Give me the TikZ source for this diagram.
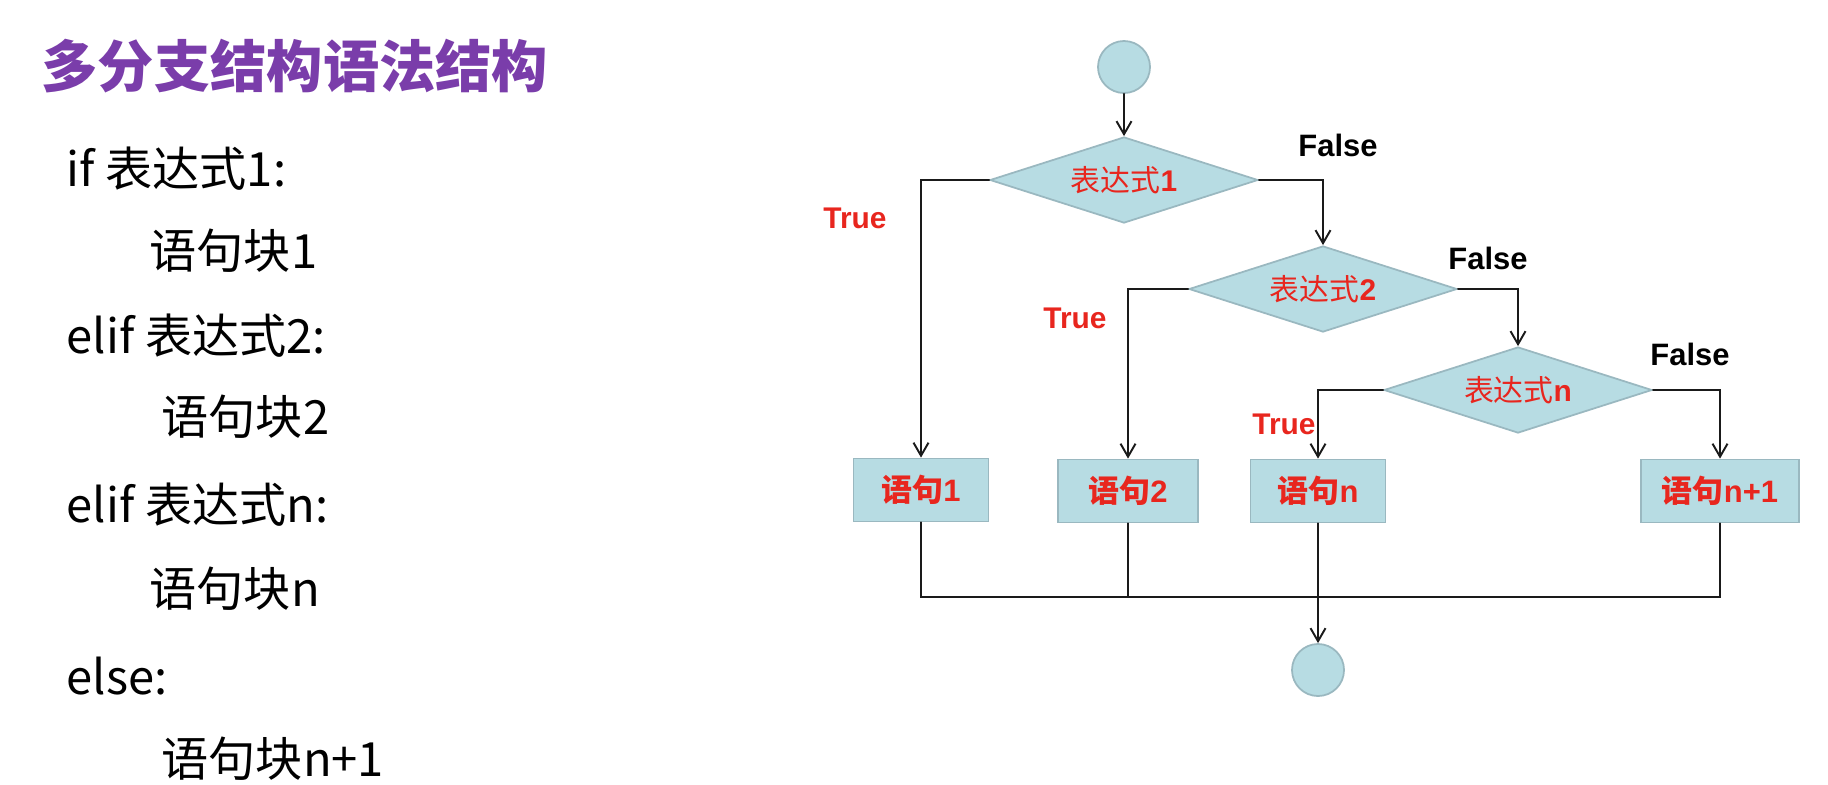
\documentclass[tikz,border=0pt]{standalone}
\usepackage{fontspec}
\usepackage{tikz}
\usetikzlibrary{shapes.geometric,arrows.meta}
\setmainfont{Liberation Sans}
\newfontfamily\cjk{Noto Sans CJK SC}
\definecolor{mbpurple}{HTML}{7A3DAA}
\definecolor{mbred}{HTML}{E8261E}
\definecolor{mbfill}{HTML}{B7DCE3}
\definecolor{mbedge}{HTML}{9AB8C0}
\definecolor{mbink}{HTML}{1A1A1A}

\begin{document}
\begin{tikzpicture}[x=0.01cm, y=-0.01cm, line cap=round,
    flow/.style={mbink, line width=0.55pt},
    arrow/.style={flow, -{Straight Barb[length=1.3mm, width=1.5mm]}},
    term/.style={circle, fill=mbfill, draw=mbedge, line width=0.5pt, minimum size=0.52cm, inner sep=0pt},
    cond/.style={diamond, fill=mbfill, draw=mbedge, line width=0.5pt, aspect=3, minimum width=2.68cm, minimum height=0.86cm, inner sep=0pt, text=mbred, font=\fontsize{8.5pt}{10pt}\selectfont\bfseries},
    stmt/.style={rectangle, fill=mbfill, draw=mbedge, line width=0.5pt, minimum height=0.63cm, inner sep=0pt, text=mbred, font=\fontsize{8.8pt}{10pt}\selectfont\bfseries},
    yes/.style={text=mbred, font=\fontsize{8.5pt}{10pt}\selectfont\bfseries},
    no/.style={text=black, font=\fontsize{8.8pt}{10pt}\selectfont\bfseries},
    code/.style={anchor=west, inner sep=0pt, text=black, font=\cjk\fontsize{13.4pt}{16pt}\selectfont}]
  \useasboundingbox (0,0) rectangle (1828,784);

  % title and syntax
  \node[anchor=west, inner sep=0pt, text=mbpurple, font=\cjk\bfseries\fontsize{16pt}{19pt}\selectfont] (title) at (41,66) {多分支结构语法结构};
  \node[code] (ln1) at (66,169) {if 表达式1:};
  \node[code] (ln2) at (149,251) {语句块1};
  \node[code] (ln3) at (66,336) {elif 表达式2:};
  \node[code] (ln4) at (161,417) {语句块2};
  \node[code] (ln5) at (66,505) {elif 表达式n:};
  \node[code] (ln6) at (149,589) {语句块n};
  \node[code] (ln7) at (66,676) {else:};
  \node[code] (ln8) at (161,759) {语句块n+1};

  % flow chart
  \node[term] (start) at (1124,67) {};
  \node[cond] (cond1) at (1124,180) {{\cjk\mdseries 表达式}1};
  \node[cond] (cond2) at (1323,289) {{\cjk\mdseries 表达式}2};
  \node[cond] (condn) at (1518,390) {{\cjk\mdseries 表达式}n};
  \node[stmt, minimum width=1.35cm] (stmt1) at (921,490) {{\cjk 语句}1};
  \node[stmt, minimum width=1.40cm] (stmt2) at (1128,491) {{\cjk 语句}2};
  \node[stmt, minimum width=1.35cm] (stmtn) at (1318,491) {{\cjk 语句}n};
  \node[stmt, minimum width=1.58cm] (stmtnn) at (1720,491) {{\cjk 语句}n+1};
  \node[term] (stop) at (1318,670) {};
  \coordinate (join) at (1318,597);

  \draw[arrow] (start) -- (cond1);
  \draw[arrow] (cond1.west) -| (stmt1.north);
  \draw[arrow] (cond1.east) -| (cond2.north);
  \draw[arrow] (cond2.west) -| (stmt2.north);
  \draw[arrow] (cond2.east) -| (condn.north);
  \draw[arrow] (condn.west) -| (stmtn.north);
  \draw[arrow] (condn.east) -| (stmtnn.north);
  \draw[flow] (stmt1.south) |- (join) -| (stmtnn.south);
  \draw[flow] (stmt2.south) -- (stmt2.south |- join);
  \draw[arrow] (stmtn.south) -- (stop.north);

  \node[yes] (t1) at (855,218) {True};
  \node[no] (f1) at (1338,145) {False};
  \node[yes] (t2) at (1075,318) {True};
  \node[no] (f2) at (1488,258) {False};
  \node[yes] (tn) at (1284,424) {True};
  \node[no] (fn) at (1690,354) {False};
\end{tikzpicture}
\end{document}
